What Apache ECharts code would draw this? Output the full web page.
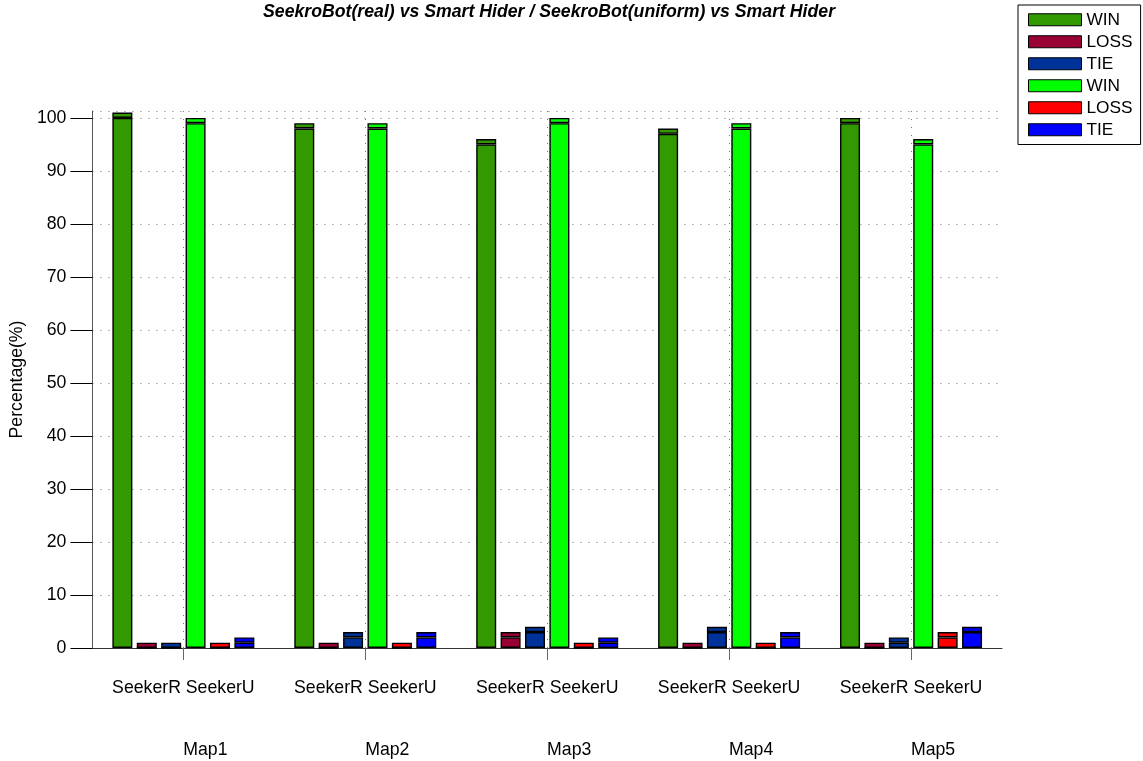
<!DOCTYPE html>
<html>
<head>
<meta charset="utf-8">
<title>SeekroBot vs Smart Hider</title>
<script src="https://cdn.jsdelivr.net/npm/echarts@6/dist/echarts.min.js"></script>
<style>
  html, body { margin: 0; padding: 0; background: #fff; }
  #chart { width: 1143px; height: 761px; }
</style>
</head>
<body>
<div id="chart"></div>
<script>
// Maps on the x axis
const categories = ['Map1', 'Map2', 'Map3', 'Map4', 'Map5'];
// Outcome percentages, SeekroBot(real) vs Smart Hider
const seekerRWin  = [100, 98, 95, 97, 99];
const seekerRLoss = [0, 0, 2, 0, 0];
const seekerRTie  = [0, 2, 3, 3, 1];
// Outcome percentages, SeekroBot(uniform) vs Smart Hider
const seekerUWin  = [99, 98, 99, 98, 95];
const seekerULoss = [0, 0, 0, 0, 2];
const seekerUTie  = [1, 2, 1, 2, 3];
// Axis tick labels
const yTicks = [0, 10, 20, 30, 40, 50, 60, 70, 80, 90, 100];
const groupLabel = 'SeekerR SeekerU';

const FONT = '"Liberation Sans", Arial, Helvetica, sans-serif';
const FS = 17.7;
const CAP = 1;          // each bar carries a one-unit cap segment on top
const Y_MAX = 101.3;

const outcomes = [
  { name: 'SeekerR WIN',  data: seekerRWin,  color: '#339900' },
  { name: 'SeekerR LOSS', data: seekerRLoss, color: '#990033' },
  { name: 'SeekerR TIE',  data: seekerRTie,  color: '#003399' },
  { name: 'SeekerU WIN',  data: seekerUWin,  color: '#00ff00' },
  { name: 'SeekerU LOSS', data: seekerULoss, color: '#ff0000' },
  { name: 'SeekerU TIE',  data: seekerUTie,  color: '#0000ff' }
];

const barStyle = (color) => ({ color: color, borderColor: '#000', borderWidth: 1.4 });

const series = [];
outcomes.forEach((o, i) => {
  const stackId = 'bar' + i;
  series.push({
    name: o.name, type: 'bar', stack: stackId,
    barWidth: 20, barGap: '22%',
    data: o.data, itemStyle: barStyle(o.color), animation: false
  });
  series.push({
    name: o.name, type: 'bar', stack: stackId,
    barWidth: 20, barGap: '22%',
    data: o.data.map(() => CAP), itemStyle: barStyle(o.color), animation: false
  });
});

const dotted = { type: [1, 7], color: '#7a7a7a', width: 1 };

const chart = echarts.init(document.getElementById('chart'), null, { renderer: 'canvas' });
chart.setOption({
  backgroundColor: '#fff',
  animation: false,
  textStyle: { fontFamily: FONT, color: '#000' },
  title: {
    text: 'SeekroBot(real) vs Smart Hider / SeekroBot(uniform) vs Smart Hider',
    left: 263, top: 3, padding: 0,
    textStyle: { fontFamily: FONT, fontSize: 17.7, fontWeight: 'bold', fontStyle: 'italic', color: '#000' }
  },
  legend: {
    orient: 'vertical', left: 1018, top: 5,
    padding: [6, 8, 6, 10],
    borderColor: '#000', borderWidth: 1,
    icon: 'rect', itemWidth: 53, itemHeight: 12, itemGap: 4.5,
    itemStyle: { borderColor: '#000', borderWidth: 1 },
    data: outcomes.map(o => o.name),
    formatter: name => name.split(' ')[1],
    textStyle: { fontFamily: FONT, fontSize: 17.3, lineHeight: 17.5, color: '#000' }
  },
  grid: { left: 90, right: 141, top: 111, bottom: 113, containLabel: false },
  xAxis: {
    type: 'category',
    data: categories,
    axisLine: { lineStyle: { color: '#333', width: 1 } },
    axisTick: { show: true, alignWithLabel: true, length: 12, lineStyle: { color: '#666' } },
    splitLine: { show: true, alignWithLabel: true, lineStyle: dotted },
    axisLabel: {
      margin: 30,
      formatter: v => '{a|' + groupLabel + '}\n{b|' + v + '}',
      rich: {
        a: { fontFamily: FONT, fontSize: FS, lineHeight: 20, color: '#000' },
        b: { fontFamily: FONT, fontSize: FS, lineHeight: 104, color: '#000', padding: [0, 0, 0, 44] }
      }
    }
  },
  yAxis: [{
    type: 'value', min: 0, max: Y_MAX, interval: 10,
    name: 'Percentage(%)', nameLocation: 'middle', nameGap: 66,
    nameTextStyle: { fontFamily: FONT, fontSize: FS, color: '#000' },
    axisLine: { show: true, lineStyle: { color: '#555', width: 1 } },
    axisTick: { show: false },
    axisLabel: {
      margin: 26, fontFamily: FONT, fontSize: FS, color: '#000',
      formatter: v => (yTicks.indexOf(v) >= 0 ? String(v) : '')
    },
    splitLine: { show: true, lineStyle: dotted }
  }, {
    // tick marks only, outward on the left
    type: 'value', min: 0, max: Y_MAX, interval: 10, position: 'left',
    axisLine: { show: false },
    axisTick: { show: true, length: 22, customValues: yTicks, lineStyle: { color: '#000' } },
    axisLabel: { show: false },
    splitLine: { show: false }
  }],
  series: series
});
</script>
</body>
</html>
